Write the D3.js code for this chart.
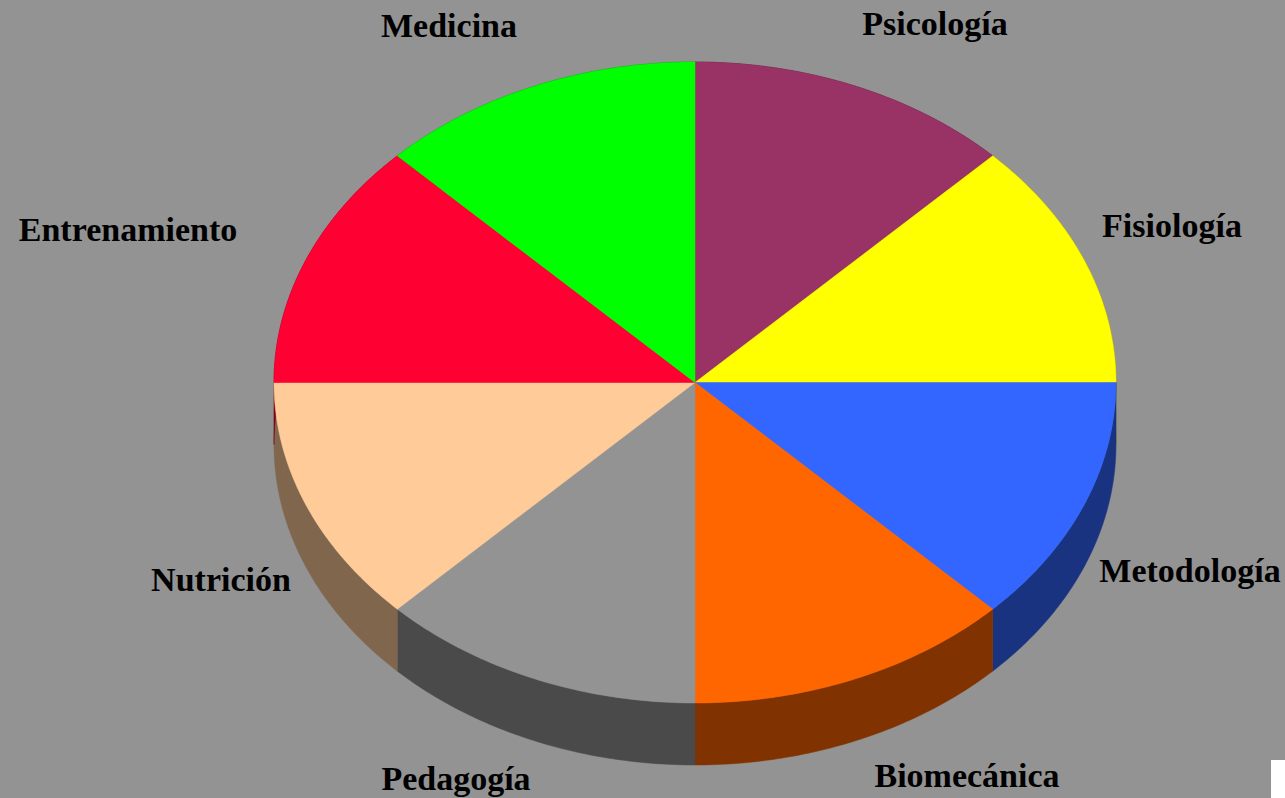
<!DOCTYPE html>
<html>
<head>
<meta charset="utf-8">
<script src="https://cdn.jsdelivr.net/npm/d3@7.9.0/dist/d3.min.js"></script>
<style>
  html, body { margin: 0; padding: 0; background: #939393; overflow: hidden; }
  svg { display: block; }
  .label { font-family: "Liberation Serif", "Times New Roman", serif; font-weight: bold; font-size: 34px; fill: #000; }
</style>
</head>
<body>
<svg id="chart" width="1285" height="798"></svg>
<script>
// slices clockwise from 12 o'clock
const categories = ['Psicología', 'Fisiología', 'Metodología', 'Biomecánica', 'Pedagogía', 'Nutrición', 'Entrenamiento', 'Medicina'];
const values = [1, 1, 1, 1, 1, 1, 1, 1];
const topColors = ['#993366', '#ffff00', '#3366ff', '#ff6600', '#939393', '#ffcc99', '#ff0033', '#00ff00'];
const sideColors = ['#4d1a33', '#808000', '#1a3380', '#803300', '#4a4a4a', '#80664d', '#80001a', '#008000'];
// label centres (x) and baselines (y)
const labelPos = [[935, 35], [1172, 237], [1190, 582], [967, 787], [456, 790], [221, 591], [128, 241], [449, 37]];

const W = 1285, H = 798;
const cx = 695, cy = 382.5, rx = 421, ry = 320.5, depth = 62;

const svg = d3.select('#chart');
svg.append('rect').attr('width', W).attr('height', H).attr('fill', '#939393');

const data = categories.map((c, i) => ({ label: c, value: values[i], i }));
const arcs = d3.pie().sort(null).value(d => d.value)(data);

// ellipse point for a d3 pie angle (0 = top, clockwise)
const pt = (a, dy = 0) => [cx + rx * Math.sin(a), cy - ry * Math.cos(a) + dy];

function arcPoints(a0, a1, dy) {
  const n = 60, pts = [];
  for (let k = 0; k <= n; k++) pts.push(pt(a0 + (a1 - a0) * k / n, dy));
  return pts;
}

const line = d3.line();

// side walls first (bottom half only is really visible)
svg.append('g').selectAll('path')
  .data(arcs)
  .join('path')
  .attr('d', d => {
    const top = arcPoints(d.startAngle, d.endAngle, 0);
    const bot = arcPoints(d.startAngle, d.endAngle, depth).reverse();
    return line(top.concat(bot)) + 'Z';
  })
  .attr('fill', d => sideColors[d.index])
  .attr('stroke', d => sideColors[d.index])
  .attr('stroke-width', 0.5);

// top faces
svg.append('g').selectAll('path')
  .data(arcs)
  .join('path')
  .attr('d', d => line([[cx, cy]].concat(arcPoints(d.startAngle, d.endAngle, 0))) + 'Z')
  .attr('fill', d => topColors[d.index])
  .attr('stroke', d => topColors[d.index])
  .attr('stroke-width', 0.5);

svg.append('g').selectAll('text')
  .data(arcs)
  .join('text')
  .attr('class', 'label')
  .attr('x', d => labelPos[d.index][0])
  .attr('y', d => labelPos[d.index][1])
  .attr('text-anchor', 'middle')
  .text(d => d.data.label);

// white patch at bottom-right corner
svg.append('rect').attr('x', 1271).attr('y', 760).attr('width', 14).attr('height', 38).attr('fill', '#fff');
</script>
</body>
</html>
